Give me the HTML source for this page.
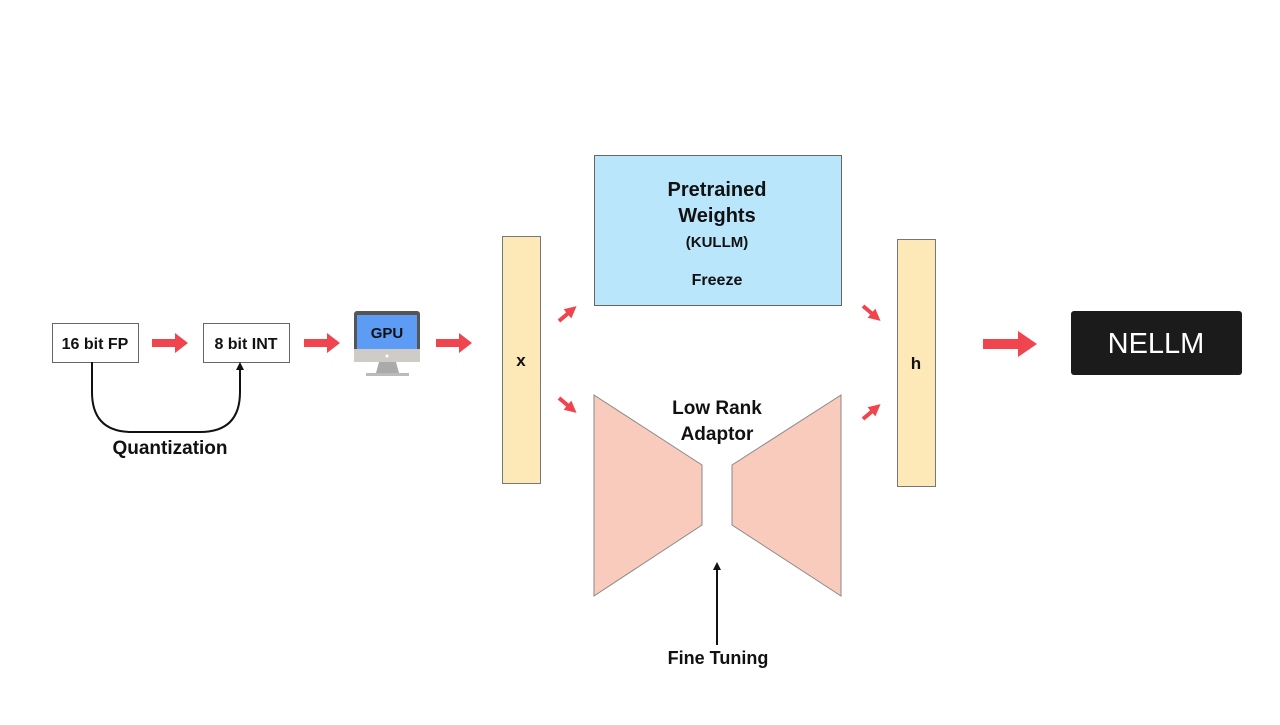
<!DOCTYPE html>
<html><head><meta charset="utf-8"><style>
body{margin:0;background:#fff;}
svg text{font-family:"Liberation Sans",sans-serif;font-weight:bold;fill:#111;}
</style></head><body>
<svg width="1280" height="720" viewBox="0 0 1280 720" xmlns="http://www.w3.org/2000/svg">
<defs>
<marker id="bk" markerWidth="8" markerHeight="8" refX="4" refY="4" orient="auto" markerUnits="userSpaceOnUse"><path d="M0,0 L8,4 L0,8 z" fill="#111"/></marker>
<marker id="rd" markerWidth="12" markerHeight="12" refX="6" refY="6" orient="auto" markerUnits="userSpaceOnUse"><path d="M0,0 L12,6 L0,12 z" fill="#f0454f"/></marker>
</defs>
<rect width="1280" height="720" fill="#fff"/>
<rect x="52.5" y="323.5" width="86" height="39" fill="#fff" stroke="#666"/>
<text x="95" y="349" font-size="16" text-anchor="middle">16 bit FP</text>
<rect x="203.5" y="323.5" width="86" height="39" fill="#fff" stroke="#666"/>
<text x="246" y="349" font-size="16" text-anchor="middle">8 bit INT</text>
<path d="M92,362 V392 Q92,432 132,432 H200 Q240,432 240,392 V366" fill="none" stroke="#111" stroke-width="2" marker-end="url(#bk)"/>
<text x="170" y="454" font-size="19" text-anchor="middle">Quantization</text>
<!-- red arrows -->
<g fill="#f0454f">
<path d="M152,339 H175 V333 L188,343 L175,353 V347 H152 z"/>
<path d="M304,339 H327 V333 L340,343 L327,353 V347 H304 z"/>
<path d="M436,339 H459 V333 L472,343 L459,353 V347 H436 z"/>
<path d="M983,339 H1018 V331 L1037,344 L1018,357 V349 H983 z"/>
</g>
<!-- GPU -->
<rect x="354" y="311" width="66" height="51" rx="3" fill="#555"/>
<rect x="354" y="349" width="66" height="13" fill="#cfcbc6"/>
<rect x="357" y="315" width="60" height="34" fill="#5c9cf5"/>
<circle cx="387" cy="356" r="1.5" fill="#fff"/>
<path d="M379,362 H396 L399,373 H376 z" fill="#aaa"/>
<rect x="366" y="373" width="43" height="3" fill="#bbb"/>
<text x="387" y="338" font-size="15" text-anchor="middle">GPU</text>
<!-- x bar -->
<rect x="502.5" y="236.5" width="38" height="247" fill="#fde8b8" stroke="#777"/>
<text x="521" y="366" font-size="17" text-anchor="middle">x</text>
<!-- pretrained -->
<rect x="594.5" y="155.5" width="247" height="150" fill="#b9e6fb" stroke="#666"/>
<text x="717" y="196" font-size="20" text-anchor="middle">Pretrained</text>
<text x="717" y="222" font-size="20" text-anchor="middle">Weights</text>
<text x="717" y="247" font-size="15" text-anchor="middle" font-weight="normal">(KULLM)</text>
<text x="717" y="285" font-size="16" text-anchor="middle">Freeze</text>
<!-- trapezoids -->
<polygon points="594,395 702,465 702,525 594,596" fill="#f9cbbd" stroke="#888"/>
<polygon points="841,395 732,465 732,525 841,596" fill="#f9cbbd" stroke="#888"/>
<text x="717" y="414" font-size="19" text-anchor="middle">Low Rank</text>
<text x="717" y="440" font-size="19" text-anchor="middle">Adaptor</text>
<line x1="717" y1="645" x2="717" y2="566" stroke="#111" stroke-width="2" marker-end="url(#bk)"/>
<text x="718" y="664" font-size="18" text-anchor="middle">Fine Tuning</text>
<!-- diagonal arrows -->
<g stroke="#f0454f" stroke-width="4">
<line x1="559" y1="321" x2="572" y2="310" marker-end="url(#rd)"/>
<line x1="559" y1="398" x2="572" y2="409" marker-end="url(#rd)"/>
<line x1="863" y1="306" x2="876" y2="317" marker-end="url(#rd)"/>
<line x1="863" y1="419" x2="876" y2="408" marker-end="url(#rd)"/>
</g>
<!-- h bar -->
<rect x="897.5" y="239.5" width="38" height="247" fill="#fde8b8" stroke="#777"/>
<text x="916" y="369" font-size="17" text-anchor="middle">h</text>
<!-- NELLM -->
<rect x="1071" y="311" width="171" height="64" rx="3" fill="#1b1b1b"/>
<text x="1156" y="353" font-size="29" text-anchor="middle" style="fill:#fff;font-weight:normal">NELLM</text>
</svg>
</body></html>
